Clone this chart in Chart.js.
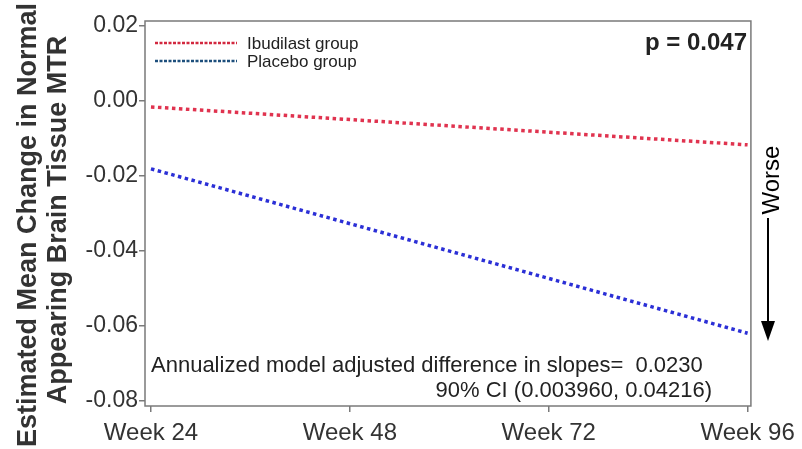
<!DOCTYPE html>
<html>
<head>
<meta charset="utf-8">
<script src="https://cdn.jsdelivr.net/npm/chart.js@4"></script>
<style>
  html, body { margin: 0; padding: 0; background: #fff; }
  #wrap { width: 802px; height: 449px; }
</style>
</head>
<body>
<div id="wrap"><canvas id="grafica" width="802" height="449"></canvas></div>
<script>
// datos
const semanas = [24, 96];
const ibudilast = [-0.0016, -0.0117];
const placebo = [-0.0181, -0.0619];
const ticksX = [24, 48, 72, 96];
const ticksY = [-0.08, -0.06, -0.04, -0.02, 0.00, 0.02];
const nombres = ["Ibudilast group", "Placebo group"];
const textoP = "p = 0.047";
const textoDif = "Annualized model adjusted difference in slopes=  0.0230";
const textoIC = "90% CI (0.003960, 0.04216)";
const tituloY = ["Estimated Mean Change in Normal", "Appearing Brain Tissue MTR"];

const fuente = "Arial, 'Liberation Sans', sans-serif";

function puntos(valores) {
  return semanas.map((s, i) => ({ x: s, y: valores[i] }));
}

// textos, leyenda, marco y flecha
const extras = {
  id: "extras",
  afterDraw(chart) {
    const ctx = chart.ctx;
    const a = chart.chartArea;
    ctx.save();

    // marco
    ctx.strokeStyle = "#7a7a7a";
    ctx.lineWidth = 1.5;
    ctx.strokeRect(a.left, a.top, a.right - a.left, a.bottom - a.top);

    // leyenda
    const colLeyenda = ["#d2283f", "#1d4f7c"];
    ctx.lineWidth = 2.5;
    ctx.setLineDash([3, 1.5]);
    ctx.font = "17px " + fuente;
    ctx.textBaseline = "middle";
    nombres.forEach((n, i) => {
      const y = 43 + i * 18;
      ctx.strokeStyle = colLeyenda[i];
      ctx.beginPath();
      ctx.moveTo(155, y);
      ctx.lineTo(237, y);
      ctx.stroke();
      ctx.fillStyle = "#222";
      ctx.fillText(n, 247, y + 1);
    });
    ctx.setLineDash([]);

    // valor p
    ctx.font = "bold 24px " + fuente;
    ctx.textAlign = "right";
    ctx.fillStyle = "#222";
    ctx.fillText(textoP, 747, 43);

    // diferencia de pendientes
    ctx.font = "22px " + fuente;
    ctx.textAlign = "left";
    ctx.fillText(textoDif, 151, 366);
    ctx.textAlign = "right";
    ctx.fillText(textoIC, 712, 391);

    // titulo eje Y
    ctx.font = "bold 27px " + fuente;
    ctx.textAlign = "center";
    ctx.textBaseline = "alphabetic";
    ctx.fillStyle = "#333";
    const centros = [[36, 225], [66, 220]];
    tituloY.forEach((t, i) => {
      ctx.save();
      ctx.translate(centros[i][0], centros[i][1]);
      ctx.rotate(-Math.PI / 2);
      ctx.fillText(t, 0, 0);
      ctx.restore();
    });

    // "Worse" con flecha
    ctx.save();
    ctx.translate(779, 180);
    ctx.rotate(-Math.PI / 2);
    ctx.font = "24px " + fuente;
    ctx.fillStyle = "#000";
    ctx.fillText("Worse", 0, 0);
    ctx.restore();
    ctx.strokeStyle = "#000";
    ctx.lineWidth = 2;
    ctx.beginPath();
    ctx.moveTo(768, 218);
    ctx.lineTo(768, 325);
    ctx.stroke();
    ctx.fillStyle = "#000";
    ctx.beginPath();
    ctx.moveTo(761, 321);
    ctx.lineTo(775, 321);
    ctx.lineTo(768, 341);
    ctx.closePath();
    ctx.fill();

    ctx.restore();
  }
};

const ctxG = document.getElementById("grafica").getContext("2d");
const grafica = new Chart(ctxG, {
  type: "line",
  data: {
    datasets: [
      {
        label: nombres[0],
        data: puntos(ibudilast),
        borderColor: "#e0334f",
        borderWidth: 3.5,
        borderDash: [3.5, 3.5],
        pointRadius: 0,
        fill: false,
        tension: 0,
      },
      {
        label: nombres[1],
        data: puntos(placebo),
        borderColor: "#2b2fd6",
        borderWidth: 3.5,
        borderDash: [3.5, 3.5],
        pointRadius: 0,
        fill: false,
        tension: 0,
      },
    ],
  },
  options: {
    responsive: false,
    animation: false,
    layout: { padding: { top: 21, right: 49, left: 0, bottom: 0 } },
    plugins: { legend: { display: false }, tooltip: { enabled: false } },
    scales: {
      x: {
        type: "linear",
        min: 23.28,
        max: 96.4,
        afterBuildTicks: (s) => { s.ticks = ticksX.map((v) => ({ value: v })); },
        afterFit: (s) => { s.height = 43; },
        border: { display: false },
        grid: { drawOnChartArea: false, tickLength: 6, color: "#7a7a7a", lineWidth: 1.5 },
        ticks: {
          color: "#333",
          font: { size: 24, family: fuente },
          padding: 7,
          maxRotation: 0,
          callback: (v) => "Week " + v,
        },
      },
      y: {
        min: -0.0813,
        max: 0.0213,
        afterBuildTicks: (s) => { s.ticks = ticksY.map((v) => ({ value: v })); },
        afterFit: (s) => { s.width = 145; },
        border: { display: false },
        grid: { drawOnChartArea: false, tickLength: 6, color: "#7a7a7a", lineWidth: 1.5 },
        ticks: {
          color: "#333",
          font: { size: 23, family: fuente },
          padding: 1,
          callback: (v) => v.toFixed(2),
        },
      },
    },
  },
  plugins: [extras],
});
</script>
</body>
</html>
